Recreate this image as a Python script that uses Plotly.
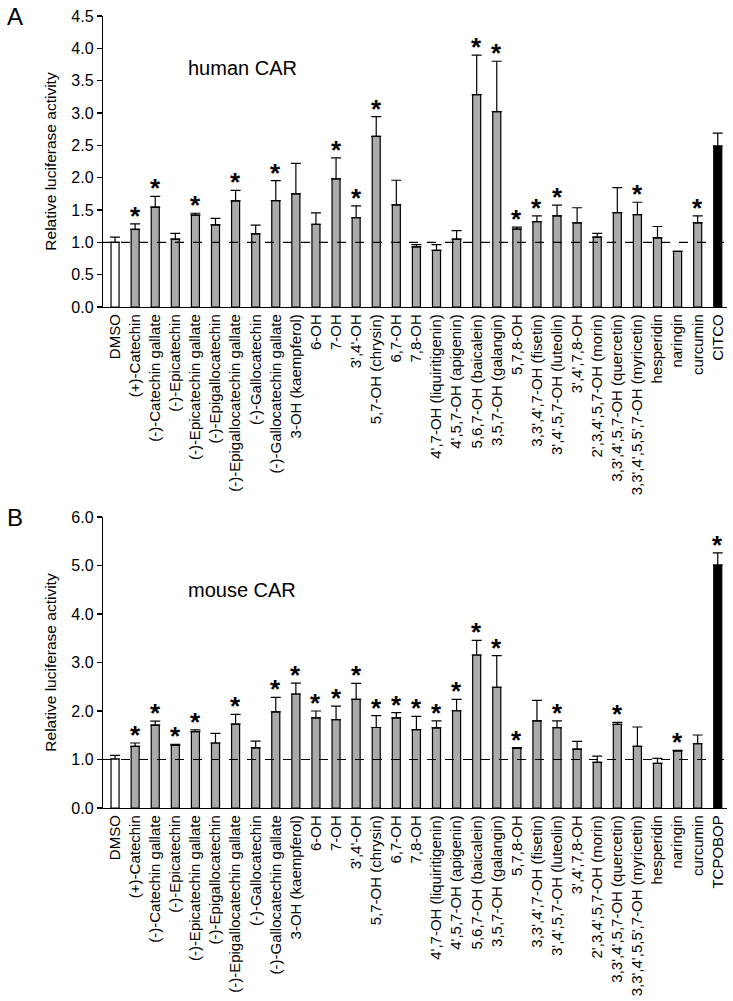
import plotly.graph_objects as go

labels_common = [
    "DMSO", "(+)-Catechin", "(-)-Catechin gallate", "(-)-Epicatechin",
    "(-)-Epicatechin gallate", "(-)-Epigallocatechin", "(-)-Epigallocatechin gallate",
    "(-)-Gallocatechin", "(-)-Gallocatechin gallate", "3-OH (kaempferol)", "6-OH",
    "7-OH", "3',4'-OH", "5,7-OH (chrysin)", "6,7-OH", "7,8-OH",
    "4',7-OH (liquiritigenin)", "4',5,7-OH (apigenin)", "5,6,7-OH (baicalein)",
    "3,5,7-OH (galangin)", "5,7,8-OH", "3,3',4',7-OH (fisetin)",
    "3',4',5,7-OH (luteolin)", "3',4',7,8-OH", "2',3,4',5,7-OH (morin)",
    "3,3',4',5,7-OH (quercetin)", "3,3',4',5,5',7-OH (myricetin)",
    "hesperidin", "naringin", "curcumin",
]
labels_a = labels_common + ["CITCO"]
labels_b = labels_common + ["TCPOBOP"]

human_mean = [1.00, 1.20, 1.545, 1.05, 1.42, 1.27, 1.64, 1.13, 1.645, 1.75, 1.28,
              1.98, 1.38, 2.64, 1.58, 0.93, 0.875, 1.05, 3.285, 3.02, 1.205,
              1.32, 1.41, 1.30, 1.08, 1.46, 1.43, 1.07, 0.86, 1.30, 2.49]
human_err = [0.08, 0.085, 0.165, 0.09, 0.03, 0.10, 0.165, 0.135, 0.31, 0.47, 0.175,
             0.325, 0.185, 0.305, 0.38, 0.035, 0.09, 0.13, 0.61, 0.78, 0.03,
             0.09, 0.165, 0.235, 0.06, 0.385, 0.19, 0.175, 0.0, 0.11, 0.20]
human_sig = [0, 1, 1, 0, 1, 0, 1, 0, 1, 0, 0, 1, 1, 1, 0, 0, 0, 0, 1, 1, 1,
             1, 1, 0, 0, 0, 1, 0, 0, 1, 0]

mouse_mean = [1.01, 1.27, 1.71, 1.29, 1.575, 1.34, 1.73, 1.24, 1.98, 2.35, 1.86,
              1.82, 2.24, 1.66, 1.86, 1.615, 1.65, 2.005, 3.155, 2.49, 1.23,
              1.795, 1.655, 1.215, 0.94, 1.725, 1.27, 0.92, 1.175, 1.325, 5.01]
mouse_err = [0.075, 0.07, 0.08, 0.02, 0.035, 0.20, 0.20, 0.14, 0.30, 0.225, 0.14,
             0.28, 0.33, 0.245, 0.105, 0.275, 0.145, 0.235, 0.30, 0.65, 0.015,
             0.425, 0.14, 0.16, 0.13, 0.04, 0.40, 0.105, 0.015, 0.18, 0.25]
mouse_sig = [0, 1, 1, 1, 1, 0, 1, 0, 1, 1, 1, 1, 1, 1, 1, 1, 1, 1, 1, 1, 1,
             0, 1, 0, 0, 1, 0, 0, 1, 0, 1]

yticks_a = [0.0, 0.5, 1.0, 1.5, 2.0, 2.5, 3.0, 3.5, 4.0, 4.5]
yticks_b = [0.0, 1.0, 2.0, 3.0, 4.0, 5.0, 6.0]

FONT = "Arial, 'Liberation Sans', Helvetica, sans-serif"
W, H = 733, 1001


def bar_colors(n):
    return ["#ffffff"] + ["#aaaaaa"] * (n - 2) + ["#000000"]


fig = go.Figure()

panels = [
    (labels_a, human_mean, human_err, human_sig, "x", "y"),
    (labels_b, mouse_mean, mouse_err, mouse_sig, "x2", "y2"),
]
for labels, mean, err, sig, xa, ya in panels:
    xs = list(range(len(labels)))
    fig.add_trace(go.Bar(
        x=xs, y=mean, width=0.4, xaxis=xa, yaxis=ya,
        marker=dict(color=bar_colors(len(labels)), line=dict(color="black", width=1.2)),
        error_y=dict(type="data", array=err, arrayminus=[0] * len(err), symmetric=False,
                     color="black", thickness=1.2, width=5),
        showlegend=False, hoverinfo="skip",
    ))
    for i in xs:
        if sig[i]:
            fig.add_annotation(
                x=i, y=mean[i] + err[i], xref=xa, yref=ya, text="<b>*</b>",
                showarrow=False, yanchor="middle", xanchor="center", yshift=8,
                font=dict(family=FONT, size=26, color="black"),
            )

xdom = [103 / W, 727 / W]
xrange = [-0.6, 30.46]
ydom_a = [1 - 307 / H, 1 - 16 / H]
ydom_b = [1 - 808 / H, 1 - 517 / H]

xcommon = dict(domain=xdom, range=xrange, showgrid=False, zeroline=False,
               showline=True, linecolor="black", linewidth=1.2, ticks="",
               tickangle=-90, tickfont=dict(family=FONT, size=15, color="black"),
               tickvals=list(range(31)), automargin=False)
ycommon = dict(showgrid=False, zeroline=False, showline=True, linecolor="black",
               linewidth=1.2, ticks="outside", ticklen=5, tickcolor="black",
               tickwidth=1.2, tickformat=".1f", automargin=False,
               tickfont=dict(family=FONT, size=16, color="black"),
               title=dict(text="Relative luciferase activity",
                          font=dict(family=FONT, size=15.5, color="black"), standoff=11))

fig.update_layout(
    template="none",
    width=W, height=H, margin=dict(l=0, r=0, t=0, b=0, autoexpand=False),
    plot_bgcolor="white", paper_bgcolor="white", bargap=0,
    xaxis=dict(**xcommon, anchor="y", ticktext=labels_a),
    yaxis=dict(**ycommon, domain=ydom_a, range=[0, 4.5], tickvals=yticks_a, anchor="x"),
    xaxis2=dict(**xcommon, anchor="y2", ticktext=labels_b),
    yaxis2=dict(**ycommon, domain=ydom_b, range=[0, 6.0], tickvals=yticks_b, anchor="x2"),
    font=dict(family=FONT, color="black"),
)

for ya, xa in (("y", "x"), ("y2", "x2")):
    fig.add_shape(type="line", xref=f"{xa} domain", yref=ya, x0=0, x1=1, y0=1, y1=1,
                  line=dict(color="black", width=1.2, dash="dash"), layer="above")

fig.add_annotation(text="A", x=15 / W, y=1 - 17 / H, xref="paper", yref="paper",
                   showarrow=False, font=dict(family=FONT, size=24, color="black"),
                   xanchor="center", yanchor="middle")
fig.add_annotation(text="B", x=15 / W, y=1 - 517 / H, xref="paper", yref="paper",
                   showarrow=False, font=dict(family=FONT, size=24, color="black"),
                   xanchor="center", yanchor="middle")
fig.add_annotation(text="human CAR", x=242 / W, y=1 - 68 / H, xref="paper", yref="paper",
                   showarrow=False, font=dict(family=FONT, size=20, color="black"),
                   xanchor="center", yanchor="middle")
fig.add_annotation(text="mouse CAR", x=242 / W, y=1 - 590 / H, xref="paper", yref="paper",
                   showarrow=False, font=dict(family=FONT, size=20, color="black"),
                   xanchor="center", yanchor="middle")

fig.write_html(
    "out.html",
    config={"displayModeBar": False, "staticPlot": True},
    post_script="document.body.style.margin='0px';document.body.style.overflow='hidden';",
)
